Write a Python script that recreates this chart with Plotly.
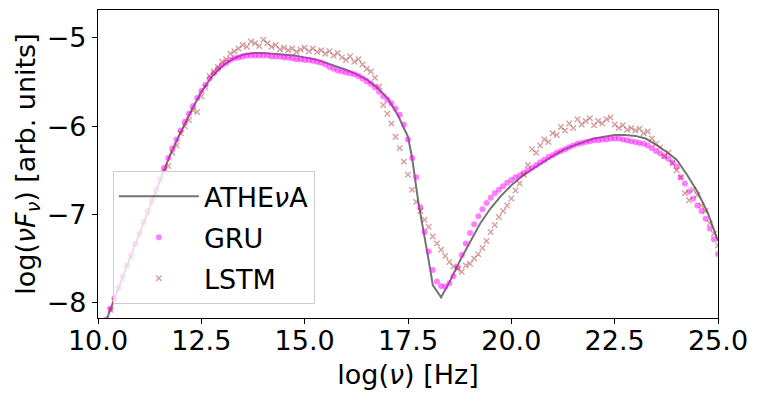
import numpy as np
import plotly.graph_objects as go

# ATHEvA model curve
athena_x = [10.0, 10.25, 10.5, 10.75, 11.0, 11.25, 11.5, 11.75, 12.0, 12.25, 12.5, 12.75,
            13.0, 13.25, 13.5, 13.75, 14.0, 14.25, 14.5, 14.75, 15.0, 15.25, 15.5, 15.75,
            16.0, 16.25, 16.5, 16.75, 17.0, 17.25, 17.5, 17.6, 17.75, 18.0, 18.1, 18.3, 18.5,
            18.75, 19.0, 19.25, 19.5, 19.75, 20.0, 20.25, 20.5, 20.75, 21.0, 21.25, 21.5,
            21.75, 22.0, 22.25, 22.5, 22.75, 23.0, 23.25, 23.5, 23.75, 24.0, 24.25, 24.5,
            24.75, 25.0]
athena_y = [-8.45, -8.13, -7.83, -7.52, -7.22, -6.91, -6.60, -6.32, -6.07, -5.83, -5.61, -5.44,
            -5.32, -5.24, -5.19, -5.17, -5.17, -5.18, -5.19, -5.20, -5.22, -5.24, -5.28, -5.32,
            -5.36, -5.41, -5.47, -5.56, -5.68, -5.87, -6.12, -6.36, -6.86, -7.52, -7.80, -7.94, -7.77,
            -7.53, -7.31, -7.10, -6.93, -6.79, -6.67, -6.57, -6.49, -6.41, -6.34, -6.27, -6.22,
            -6.18, -6.14, -6.12, -6.10, -6.10, -6.11, -6.14, -6.21, -6.29, -6.38, -6.55, -6.74,
            -6.98, -7.30]

# frequency grid of the network predictions (log Hz)
pred_x = [round(10.2 + 0.1 * i, 1) for i in range(149)]

gru_y = [-8.19, -8.07, -7.95, -7.83, -7.70, -7.58, -7.46, -7.34, -7.21, -7.09,
         -6.96, -6.84, -6.71, -6.59, -6.47, -6.36, -6.25, -6.15, -6.05, -5.95,
         -5.86, -5.77, -5.68, -5.60, -5.53, -5.46, -5.40, -5.35, -5.31, -5.28,
         -5.25, -5.23, -5.22, -5.21, -5.20, -5.20, -5.20, -5.20, -5.20, -5.20,
         -5.21, -5.21, -5.21, -5.22, -5.22, -5.23, -5.24, -5.24, -5.25, -5.25,
         -5.26, -5.27, -5.28, -5.30, -5.33, -5.35, -5.37, -5.38, -5.39, -5.40,
         -5.41, -5.43, -5.46, -5.49, -5.52, -5.56, -5.61, -5.66, -5.70, -5.74,
         -5.80, -5.87, -5.98, -6.15, -6.36, -6.58, -6.92, -7.20, -7.42, -7.63,
         -7.76, -7.81, -7.82, -7.78, -7.70, -7.60, -7.46, -7.33, -7.21, -7.11,
         -7.02, -6.94, -6.87, -6.81, -6.76, -6.72, -6.68, -6.64, -6.61, -6.58,
         -6.56, -6.53, -6.50, -6.47, -6.44, -6.41, -6.38, -6.35, -6.33, -6.30,
         -6.28, -6.26, -6.24, -6.22, -6.20, -6.19, -6.18, -6.17, -6.16, -6.16,
         -6.15, -6.15, -6.14, -6.14, -6.14, -6.15, -6.16, -6.17, -6.18, -6.19,
         -6.20, -6.22, -6.25, -6.28, -6.31, -6.34, -6.37, -6.41, -6.46, -6.58,
         -6.65, -6.74, -6.82, -6.90, -6.96, -7.05, -7.16, -7.28, -7.45]

lstm_y = [-8.22, -8.08, -7.98, -7.84, -7.74, -7.58, -7.49, -7.33, -7.24, -7.08,
          -6.99, -6.86, -6.76, -6.62, -6.52, -6.45, -6.30, -6.22, -6.08, -6.00,
          -5.93, -5.82, -5.84, -5.66, -5.56, -5.43, -5.38, -5.33, -5.27, -5.24,
          -5.18, -5.15, -5.12, -5.08, -5.10, -5.04, -5.06, -5.09, -5.02, -5.06,
          -5.10, -5.08, -5.13, -5.11, -5.14, -5.12, -5.16, -5.13, -5.11, -5.15,
          -5.12, -5.16, -5.14, -5.18, -5.15, -5.20, -5.17, -5.22, -5.25, -5.21,
          -5.27, -5.24, -5.30, -5.35, -5.38, -5.45, -5.55, -5.76, -5.86, -5.97,
          -6.12, -6.25, -6.40, -6.55, -6.72, -6.86, -6.96, -7.06, -7.14, -7.25,
          -7.33, -7.40, -7.47, -7.54, -7.59, -7.62, -7.65, -7.58, -7.56, -7.50,
          -7.45, -7.38, -7.30, -7.20, -7.12, -7.03, -6.96, -6.90, -6.82, -6.73,
          -6.65, -6.55, -6.44, -6.26, -6.30, -6.22, -6.15, -6.18, -6.08, -6.10,
          -6.01, -6.05, -5.97, -6.02, -5.92, -5.98, -5.94, -5.91, -5.99, -5.94,
          -5.97, -5.92, -5.90, -5.98, -6.02, -5.99, -6.04, -6.02, -6.05, -6.03,
          -6.08, -6.06, -6.14, -6.20, -6.24, -6.34, -6.30, -6.42, -6.50, -6.58,
          -6.76, -6.84, -6.72, -6.78, -6.90, -6.96, -7.10, -7.22, -7.35]

x_ticks = [10.0, 12.5, 15.0, 17.5, 20.0, 22.5, 25.0]
y_ticks = [-8, -7, -6, -5]

FONT = "DejaVu Sans"
FS = 27

fig = go.Figure()
fig.add_trace(go.Scatter(
    x=athena_x, y=athena_y, mode="lines", name="ATHE<i>ν</i>A", legendgroup="a",
    line=dict(color="rgba(0,0,0,0.55)", width=2)))
fig.add_trace(go.Scatter(
    x=pred_x, y=gru_y, mode="markers", name="GRU", legendgroup="g",
    marker=dict(symbol="circle", size=6, color="rgba(255,0,255,0.5)",
                line=dict(width=0))))
fig.add_trace(go.Scatter(
    x=pred_x, y=lstm_y, mode="markers", name="LSTM", legendgroup="l",
    marker=dict(symbol="x-thin", size=5.5, color="rgba(165,42,42,0.45)",
                line=dict(width=1.4, color="rgba(165,42,42,0.45)"))))

axis_common = dict(showgrid=False, zeroline=False, showline=True, linecolor="black",
                   linewidth=1.2, mirror=True, ticks="outside", ticklen=5,
                   tickwidth=1.2, tickcolor="black",
                   tickfont=dict(family=FONT, size=FS, color="black"))

fig.update_xaxes(range=[10, 25], tickvals=x_ticks, tickformat=".1f",
                 ticklabelstandoff=-7,
                 title=dict(text="log(<i>ν</i>) [Hz]",
                            font=dict(family=FONT, size=FS, color="black"), standoff=10),
                 **axis_common)
fig.update_yaxes(range=[-8.174, -4.683], tickvals=y_ticks,
                 title=dict(text="log(<i>νF</i><sub><i>ν</i></sub>) [arb. units]",
                            font=dict(family=FONT, size=FS, color="black"), standoff=3),
                 **axis_common)

# page body adds an 8px offset, so the figure is sized/margined to compensate
fig.update_layout(
    width=751, height=395,
    margin=dict(l=90, r=41, t=2, b=85),
    plot_bgcolor="white", paper_bgcolor="white",
    font=dict(family=FONT, size=FS, color="black"),
    legend=dict(x=0.024, y=0.477, xanchor="left", yanchor="top",
                bgcolor="rgba(255,255,255,0.8)", bordercolor="rgb(204,204,204)",
                borderwidth=1, font=dict(family=FONT, size=FS, color="black"),
                itemwidth=80, tracegroupgap=3),
    showlegend=True,
)

fig.write_html("out.html")
